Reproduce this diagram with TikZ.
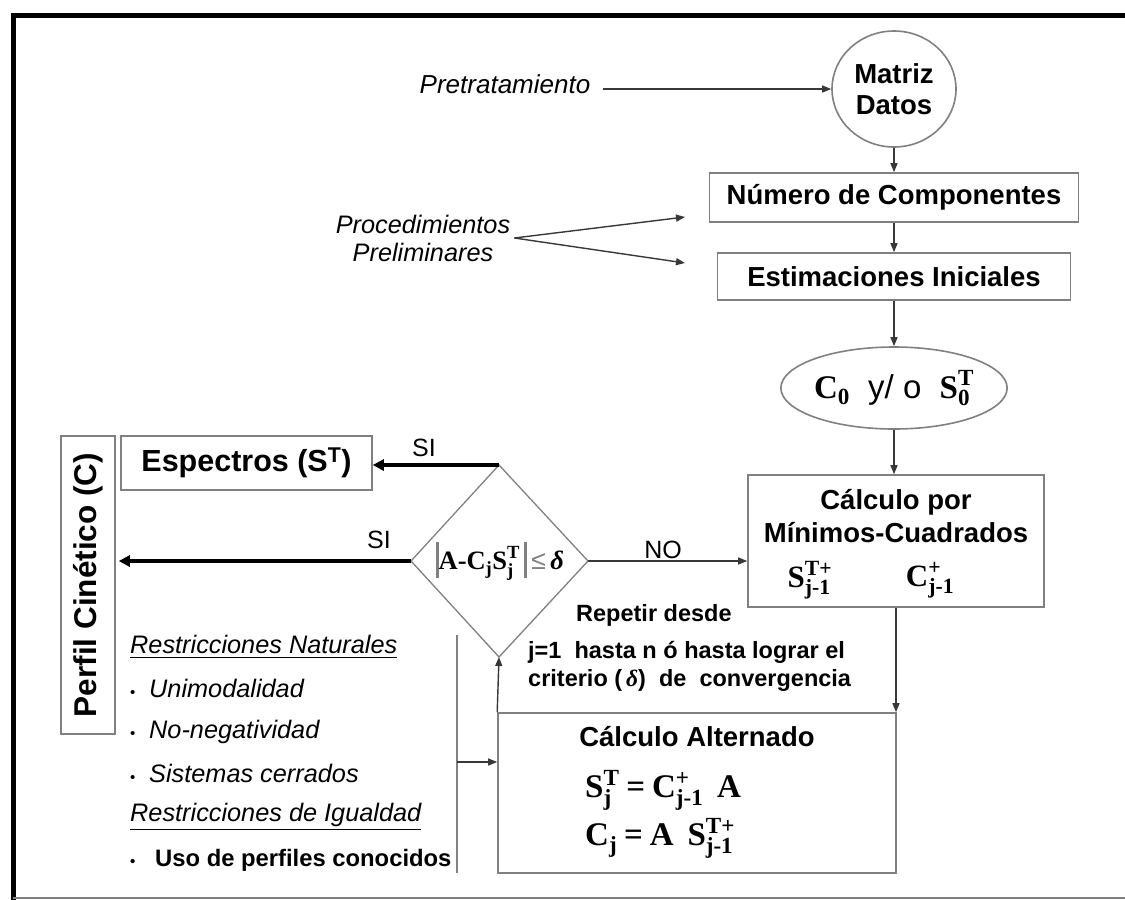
\documentclass[tikz,border=0pt]{standalone}
\usepackage{amsmath}
\usepackage{fontspec}
\setmainfont{Liberation Sans}
\newfontfamily\tms{Liberation Serif}
\usetikzlibrary{arrows.meta,shapes.geometric}
\definecolor{boxgray}{gray}{0.5}
\definecolor{linegray}{gray}{0.22}
% bold serif symbol for the matrix formulas
\newcommand{\tb}[1]{\text{\tms\bfseries #1}}
\newcommand{\vbar}{{\color{boxgray}\rule[-0.3em]{2.5pt}{1.35em}}}
\newcommand{\bul}{\makebox[19pt][l]{\fontsize{15}{15}\selectfont\upshape\textbullet}}
\tikzset{
  box/.style={draw=boxgray, line width=1.6pt, rectangle, inner sep=0pt},
  lbl/.style={font=\fontsize{27.5}{31}\selectfont\bfseries},
  txt/.style={inner sep=0pt},
  ital/.style={inner sep=0pt, font=\fontsize{25.3}{28}\selectfont\itshape},
  note/.style={inner sep=0pt, font=\fontsize{23.5}{26}\selectfont\bfseries},
  mth/.style={inner sep=0pt, font=\fontsize{31}{34}\selectfont},
  arr/.style={draw=linegray, line width=1.4pt, -{Triangle[length=9pt,width=7pt]}},
  sarr/.style={draw=black, line width=4pt, -{Triangle[length=11pt,width=11pt]}},
  yes/.style={inner sep=0pt, font=\fontsize{25}{25}\selectfont},
}
\begin{document}
\begin{tikzpicture}[x=1pt,y=-1pt]
\useasboundingbox (0,0) rectangle (1125,900);

% page frame
\draw[line width=5pt] (1125,15) -- (13,15) -- (13,900);
\draw[boxgray, line width=2pt] (13,898) -- (1125,898);

% main column
\node[box, ellipse, minimum width=124, minimum height=116, align=center,
      font=\fontsize{27.5}{31}\selectfont\bfseries] (datos) at (894,89) {Matriz\\Datos};
\node[box, lbl, minimum width=369, minimum height=49] (num) at (894,197.5) {Número de Componentes};
\node[box, lbl, minimum width=353, minimum height=47] (est) at (894,276.5) {Estimaciones Iniciales};
\node[box, ellipse, minimum width=200, minimum height=82, inner sep=0pt, font=\fontsize{33}{36}\selectfont] (cero) at (894,388)
  {$\tb{C}_{\tb{0}}$\ \ y/ o\ \ $\tb{S}_{\tb{0}}^{\tb{T}}$};

% least squares box
\node[box, minimum width=296, minimum height=132] (ls) at (896,541) {};
\node[txt, lbl] (ls1) at (896,502) {Cálculo por};
\node[txt, lbl] (ls2) at (896,533) {Mínimos-Cuadrados};
\node[mth] (ls3) at (810,580) {$\tb{S}_{\tb{j-1}}^{\tb{T+}}$};
\node[mth] (ls4) at (930,580) {$\tb{C}_{\tb{j-1}}^{\tb{+}}$};

% convergence test
\coordinate (dT) at (499,465);
\coordinate (dB) at (499,657);
\coordinate (dL) at (411,561);
\coordinate (dR) at (588,561);
\draw[boxgray, line width=1.3pt] (dT) -- (dR) -- (dB) -- (dL) -- cycle;
\node[txt, font=\fontsize{26.5}{28}\selectfont] (cond) at (500,561)
  {\vbar$\tb{A}\tb{-}\tb{C}_{\tb{j}}\tb{S}_{\tb{j}}^{\tb{T}}$\,\vbar\,{\color{boxgray}≤}\,{\tms\bfseries\itshape δ}};

% outputs
\node[box, minimum width=251, minimum height=54, font=\fontsize{30.5}{32}\selectfont\bfseries] (esp) at (246.5,463)
  {Espectros (S\textsuperscript{T})};
\node[box, rotate=90, minimum width=298, minimum height=54, font=\fontsize{31.5}{33}\selectfont\bfseries] (perf) at (88,585)
  {Perfil Cinético (C)};

% alternating step
\node[box, minimum width=398, minimum height=160] (alt) at (697,793) {};
\node[txt, lbl] (alt1) at (697,737) {Cálculo Alternado};
\node[mth, anchor=west, font=\fontsize{33}{36}\selectfont] (alt2) at (585,790)
  {$\tb{S}_{\tb{j}}^{\tb{T}}\;\tb{=}\;\tb{C}_{\tb{j-1}}^{\tb{+}}\;\;\tb{A}$};
\node[mth, anchor=west, font=\fontsize{33}{36}\selectfont] (alt3) at (585,838)
  {$\tb{C}_{\tb{j}}\;\tb{=}\;\tb{A}\;\;\tb{S}_{\tb{j-1}}^{\tb{T+}}$};

% side notes
\node[ital, font=\fontsize{26}{28}\selectfont\itshape] (pre) at (505,84) {Pretratamiento};
\node[ital, align=center] (proc) at (423,238) {Procedimientos\\Preliminares};
\node[note, anchor=west] (rep1) at (576,615) {Repetir desde};
\node[note, anchor=west] (rep2) at (528,652) {j=1\ \ hasta n ó hasta lograr el};
\node[note, anchor=west] (rep3) at (528,680) {criterio (\,{\tms\bfseries\itshape δ})\ \ de\ \ convergencia};

\node[ital, anchor=west] (rn) at (130,647) {\underline{Restricciones Naturales}};
\node[ital, anchor=west] (r1) at (130,688) {\bul Unimodalidad};
\node[ital, anchor=west] (r2) at (130,732) {\bul No-negatividad};
\node[ital, anchor=west] (r3) at (130,773) {\bul Sistemas cerrados};
\node[ital, anchor=west] (ri) at (130,817) {\underline{Restricciones de Igualdad}};
\node[txt, anchor=west, font=\fontsize{23.8}{26}\selectfont\bfseries] (r4) at (130,860)
  {\makebox[25pt][l]{\fontsize{15}{15}\selectfont\textbullet}Uso de perfiles conocidos};

% connectors
\path ([xshift=13pt]pre.east) coordinate (pa);
\draw[arr] (pa |- datos.west) -- (datos.west);
\draw[arr] (datos.south) -- (num.north);
\draw[arr] (num.south) -- (est.north);
\draw[arr] (est.south) -- (cero.north);
\draw[arr] (cero.south) -- (cero.south |- ls.north);

\path ([xshift=4pt]proc.east) coordinate (pp);
\coordinate (p1) at (685,217);
\coordinate (p2) at (685,263);
\draw[arr] (pp) -- (p1);
\draw[arr] (pp) -- (p2);

\draw[arr] (dR) -- (dR -| ls.west);
\node[yes] (no) at (663,550) {NO};

\draw[sarr] (dT) -- (dT -| esp.east);
\node[yes] (si1) at (424,448) {SI};
\draw[sarr] (dL) -- ([xshift=3pt]dL -| perf.south);
\node[yes] (si2) at (379,540) {SI};

\draw[arr] (ls.south) -- (ls.south |- alt.north);
\draw[arr] (alt.north west) -- (dB);

\coordinate (brT) at (457,635);
\coordinate (brB) at (457,873);
\coordinate (brM) at (457,762);
\draw[boxgray, line width=1.8pt] (brT) -- (brB);
\draw[arr] (brM) -- (brM -| alt.west);
\end{tikzpicture}
\end{document}
